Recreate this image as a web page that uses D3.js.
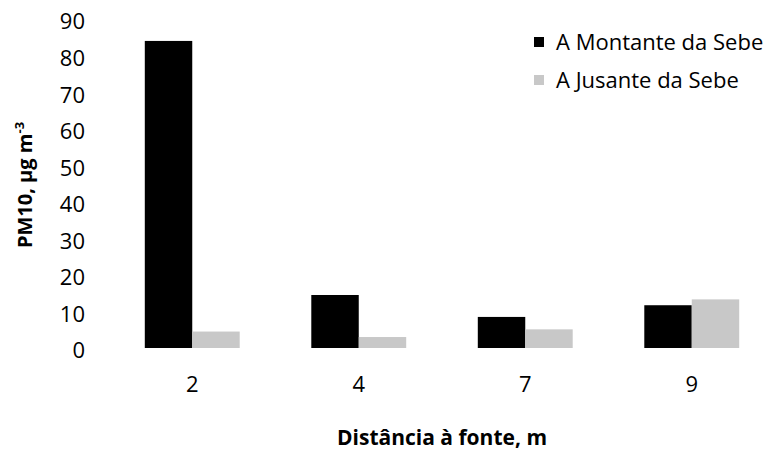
<!DOCTYPE html>
<html>
<head>
<meta charset="utf-8">
<script src="https://cdn.jsdelivr.net/npm/d3@7"></script>
<style>
  body { margin: 0; background: #fff; }
  text { font-family: "Open Sans", "Noto Sans", sans-serif; fill: #000; }
</style>
</head>
<body>
<div id="chart"></div>
<script>
// data
const distances = ["2", "4", "7", "9"];
const seriesNames = ["A Montante da Sebe", "A Jusante da Sebe"];
const montante = [84, 14.5, 8.5, 11.7];
const jusante = [4.5, 3.0, 5.1, 13.3];
const yTicks = [0, 10, 20, 30, 40, 50, 60, 70, 80, 90];
const colors = ["#000000", "#c8c8c8"];

const WIDTH = 778;
const HEIGHT = 456;

const svg = d3
  .select("#chart")
  .append("svg")
  .attr("width", WIDTH)
  .attr("height", HEIGHT);

// scales
const xScale = d3
  .scaleBand()
  .domain(distances)
  .range([109, 775])
  .paddingInner(0.43)
  .paddingOuter(0.215);

const xSub = d3
  .scaleBand()
  .domain(seriesNames)
  .range([0, xScale.bandwidth()]);

const yScale = d3.scaleLinear().domain([0, 90]).range([348, 19]);

// y axis (labels only)
const yAxis = svg
  .append("g")
  .attr("transform", "translate(85,0)")
  .call(d3.axisLeft(yScale).tickValues(yTicks).tickSize(0).tickPadding(0));
yAxis.select(".domain").remove();
yAxis
  .selectAll("text")
  .attr("font-size", "22px")
  .attr("font-family", "Open Sans, sans-serif")
  .attr("dy", "0.45em");

// x axis (labels only)
const xAxis = svg
  .append("g")
  .attr("transform", "translate(0,348)")
  .call(d3.axisBottom(xScale).tickSize(0).tickPadding(37));
xAxis.select(".domain").remove();
xAxis
  .selectAll("text")
  .attr("font-size", "22px")
  .attr("font-family", "Open Sans, sans-serif")
  .attr("dy", "0.3em");

// bars
const rows = distances.map((d, i) => ({
  dist: d,
  values: [
    { name: seriesNames[0], value: montante[i], color: colors[0] },
    { name: seriesNames[1], value: jusante[i], color: colors[1] },
  ],
}));

svg
  .selectAll(".group")
  .data(rows)
  .enter()
  .append("g")
  .attr("class", "group")
  .attr("transform", (d) => `translate(${xScale(d.dist)},0)`)
  .selectAll("rect")
  .data((d) => d.values)
  .enter()
  .append("rect")
  .attr("x", (d) => xSub(d.name))
  .attr("y", (d) => yScale(d.value))
  .attr("width", xSub.bandwidth())
  .attr("height", (d) => yScale(0) - yScale(d.value))
  .attr("fill", (d) => d.color);

// axis titles
svg
  .append("text")
  .attr("transform", "translate(32,185) rotate(-90)")
  .attr("text-anchor", "middle")
  .attr("font-size", "20px")
  .attr("font-weight", "bold")
  .html('PM10, µg m<tspan dy="-8" font-size="13px">-3</tspan>');

svg
  .append("text")
  .attr("x", 442)
  .attr("y", 445)
  .attr("text-anchor", "middle")
  .attr("font-size", "21px")
  .attr("font-weight", "bold")
  .text("Distância à fonte, m");

// legend
const legend = svg
  .selectAll(".legend")
  .data(seriesNames)
  .enter()
  .append("g")
  .attr("class", "legend")
  .attr("transform", (d, i) => `translate(534,${37 + i * 38})`);

legend
  .append("rect")
  .attr("width", 10)
  .attr("height", 10)
  .attr("fill", (d, i) => colors[i]);

legend
  .append("text")
  .attr("x", 22)
  .attr("y", 5)
  .attr("dy", "0.35em")
  .attr("font-size", "22px")
  .text((d) => d);
</script>
</body>
</html>
